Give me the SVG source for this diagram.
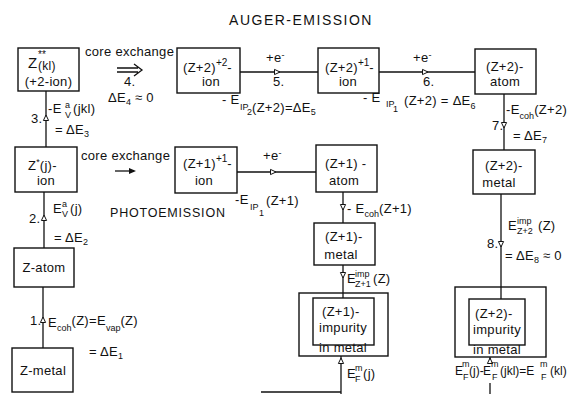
<svg xmlns="http://www.w3.org/2000/svg" width="574" height="394" viewBox="0 0 574 394">
<defs>
<style>
text{font-family:"Liberation Sans",Arial,sans-serif;font-size:13px;letter-spacing:.3px;fill:#111}
.s{font-size:9px;letter-spacing:0}
.m{text-anchor:middle}
.box{fill:#fff;stroke:#111;stroke-width:1.4}
.ln{fill:none;stroke:#111;stroke-width:1.3}
.ar{fill:none;stroke:#111;stroke-width:1.3;marker-mid:url(#tri)}
.title{font-size:14px;letter-spacing:1.5px;text-anchor:middle}
.photo{font-size:12.5px;letter-spacing:.8px}
.eq{font-size:12px;letter-spacing:0}
</style>
<marker id="tri" viewBox="-4 -4 8 8" markerWidth="8" markerHeight="8" refX="0" refY="0" orient="auto" markerUnits="userSpaceOnUse">
<path d="M-2.5,-2.6 L3,0 L-2.5,2.6 Z" fill="#fff" stroke="#111" stroke-width="1"/>
</marker>
</defs>
<rect width="574" height="394" fill="#fff"/>
<text x="301" y="25" class="title">AUGER-EMISSION</text>
<text x="110" y="217" class="photo">PHOTOEMISSION</text>

<g id="n-z2ion">
<rect class="box" x="18" y="48" width="61" height="43"/>
<text x="28" y="68" style="font-size:15px">Z</text>
<text x="38" y="58" class="s" style="font-size:10px">**</text>
<text x="38" y="70" style="font-size:12px">(kl)</text>
<text x="48.5" y="86" class="m">(+2-ion)</text>
</g>
<g id="n-zp2-ion2">
<rect class="box" x="177" y="48" width="63" height="45"/>
<text x="183" y="72">(Z+2)<tspan dy="-6" class="s" style="font-size:10px">+2</tspan><tspan dy="6">-</tspan></text>
<text x="211" y="86" class="m">ion</text>
</g>
<g id="n-zp2-ion1">
<rect class="box" x="318" y="48" width="61" height="45"/>
<text x="325" y="72">(Z+2)<tspan dy="-6" class="s" style="font-size:10px">+1</tspan><tspan dy="6">-</tspan></text>
<text x="348" y="86" class="m">ion</text>
</g>
<g id="n-zp2-atom">
<rect class="box" x="475" y="49" width="61" height="45"/>
<text x="486" y="71">(Z+2)-</text>
<text x="505" y="86" class="m">atom</text>
</g>
<g id="n-zj-ion">
<rect class="box" x="15" y="147" width="62" height="45"/>
<text x="28" y="170">Z<tspan dy="-5" class="s">*</tspan><tspan dy="5">(j)-</tspan></text>
<text x="46" y="185" class="m">ion</text>
</g>
<g id="n-zp1-ion">
<rect class="box" x="175" y="147" width="62" height="46"/>
<text x="183" y="168">(Z+1)<tspan dy="-6" class="s" style="font-size:10px">+1</tspan><tspan dy="6">-</tspan></text>
<text x="204" y="185" class="m">ion</text>
</g>
<g id="n-zp1-atom">
<rect class="box" x="316" y="145" width="61" height="47"/>
<text x="325" y="168">(Z+1) -</text>
<text x="344" y="185" class="m">atom</text>
</g>
<g id="n-zp1-metal">
<rect class="box" x="314" y="223" width="61" height="42"/>
<text x="325" y="241">(Z+1)-</text>
<text x="341" y="259" class="m">metal</text>
</g>
<g id="n-zp1-imp">
<rect class="box" x="299" y="293" width="89" height="63"/>
<rect class="box" x="313" y="298" width="61" height="47"/>
<text x="322" y="316">(Z+1)-</text>
<text x="343" y="332" class="m">impurity</text>
<text x="343" y="352" class="m">in metal</text>
</g>
<g id="n-zp2-metal">
<rect class="box" x="473" y="150" width="62" height="44"/>
<text x="485" y="170">(Z+2)-</text>
<text x="499" y="187" class="m">metal</text>
</g>
<g id="n-zp2-imp">
<rect class="box" x="455" y="287" width="91" height="70"/>
<rect class="box" x="469" y="299" width="56" height="46"/>
<text x="475" y="318">(Z+2)-</text>
<text x="497" y="334" class="m">impurity</text>
<text x="497" y="354" class="m">in metal</text>
</g>
<g id="n-z-atom">
<rect class="box" x="14" y="248" width="60" height="39"/>
<text x="44" y="272" class="m">Z-atom</text>
</g>
<g id="n-z-metal">
<rect class="box" x="12" y="348" width="61" height="44"/>
<text x="43" y="375" class="m">Z-metal</text>
</g>

<g id="connectors">
<path class="ar" d="M46,147 L46,118 L46,91"/>
<path class="ln" d="M117,68 L138,68 M117,72 L138,72 M134,64 L142,70 L134,76"/>
<path class="ln" d="M115,171 L134,171"/>
<path d="M136,171 L129,168 L129,174 Z" fill="#111"/>
<path class="ar" d="M240,72 L277,72 L318,72"/>
<path class="ar" d="M379,72 L425,72 L475,72"/>
<path class="ar" d="M504,94 L504,125 L504,150"/>
<path class="ar" d="M501,194 L501,244 L501,299"/>
<path class="ar" d="M44,248 L44,218 L44,192"/>
<path class="ar" d="M43,348 L43,320 L43,287"/>
<path class="ar" d="M237,172 L273,172 L316,172"/>
<path class="ar" d="M343,192 L343,207 L343,223"/>
<path class="ar" d="M343,265 L343,275 L343,298"/>
<path class="ar" d="M341,394 L341,361 L341,356"/>
<path class="ln" d="M261,392 L341,392"/>
<path class="ar" d="M490,364 L490,361 L490,357"/>
<path class="ln" d="M490,383 L490,394"/>

<text x="31" y="123">3.</text>
<text x="48" y="113">-E<tspan x="65" dy="-5" class="s">a</tspan><tspan x="65" dy="10" class="s">V</tspan><tspan x="73" dy="-5">(jkl)</tspan></text>
<text x="55" y="134">= ΔE<tspan dy="3" class="s">3</tspan></text>

<text x="85" y="56">core exchange</text>
<text x="124" y="86">4.</text>
<text x="108" y="102">ΔE<tspan dy="3" class="s">4</tspan><tspan dy="-3"> ≈ 0</tspan></text>
<text x="81" y="160">core exchange</text>

<text x="266" y="62">+e<tspan dy="-4" class="s">-</tspan></text>
<text x="273" y="86">5.</text>
<text x="222" y="104">- E<tspan x="240" dy="6" class="s">IP</tspan><tspan x="247" dy="5" class="s">2</tspan><tspan x="252" dy="-3">(Z+2)=ΔE</tspan><tspan dy="3" class="s">5</tspan></text>

<text x="413" y="62">+e<tspan dy="-4" class="s">-</tspan></text>
<text x="423" y="86">6.</text>
<text x="363" y="102">-  E<tspan x="386" dy="5" class="s">IP</tspan><tspan x="393" dy="5" class="s">1</tspan><tspan x="404" dy="-7">(Z+2) = ΔE</tspan><tspan dy="4" class="s">6</tspan></text>

<text x="506" y="114">-E<tspan dy="5" class="s">coh</tspan><tspan dy="-5">(Z+2)</tspan></text>
<text x="492" y="130">7.</text>
<text x="513" y="140">= ΔE<tspan dy="3" class="s">7</tspan></text>

<text x="508" y="230">E<tspan x="517" dy="-6" class="s">imp</tspan><tspan x="517" dy="10" class="s">Z+2</tspan><tspan x="538" dy="-4">(Z)</tspan></text>
<text x="487" y="248">8.</text>
<text x="505" y="260">= ΔE<tspan dy="3" class="s">8</tspan><tspan dy="-3"> ≈ 0</tspan></text>

<text x="29" y="223">2.</text>
<text x="53" y="213">E<tspan x="62" dy="-6" class="s">a</tspan><tspan x="62" dy="10" class="s">V</tspan><tspan x="70" dy="-4">(j)</tspan></text>
<text x="54" y="242">= ΔE<tspan dy="3" class="s">2</tspan></text>

<text x="30" y="325">1.</text>
<text x="48" y="327">E<tspan dy="4" class="s">coh</tspan><tspan dy="-6">(Z)=E</tspan><tspan dy="6" class="s">vap</tspan><tspan dy="-6">(Z)</tspan></text>
<text x="89" y="356">= ΔE<tspan dy="3" class="s">1</tspan></text>

<text x="263" y="160">+e<tspan dy="-4" class="s">-</tspan></text>
<text x="235" y="204">-E<tspan x="250" dy="6" class="s">IP</tspan><tspan x="259" dy="6" class="s">1</tspan><tspan x="266" dy="-11">(Z+1)</tspan></text>

<text x="347" y="213">- E<tspan dy="4" class="s">coh</tspan><tspan dy="-4">(Z+1)</tspan></text>
<text x="347" y="283">E<tspan x="355" dy="-6" class="s">imp</tspan><tspan x="355" dy="10" class="s">Z+1</tspan><tspan x="373" dy="-4">(Z)</tspan></text>
<text x="347" y="378">E<tspan x="355" dy="-7" class="s">m</tspan><tspan x="355" dy="11" class="s">F</tspan><tspan x="363" dy="-4">(j)</tspan></text>

<text x="455" y="375" class="eq">E<tspan x="462" dy="-8" class="s">m</tspan><tspan x="463" dy="13" class="s">F</tspan><tspan x="469" dy="-5">(j)-</tspan><tspan x="483">E</tspan><tspan x="491" dy="-8" class="s">m</tspan><tspan x="492" dy="13" class="s">F</tspan><tspan x="500" dy="-5">(jkl)=E</tspan><tspan x="540" dy="-8" class="s">m</tspan><tspan x="541" dy="13" class="s">F</tspan><tspan x="550" dy="-5">(kl)</tspan></text>
</g>
</svg>
